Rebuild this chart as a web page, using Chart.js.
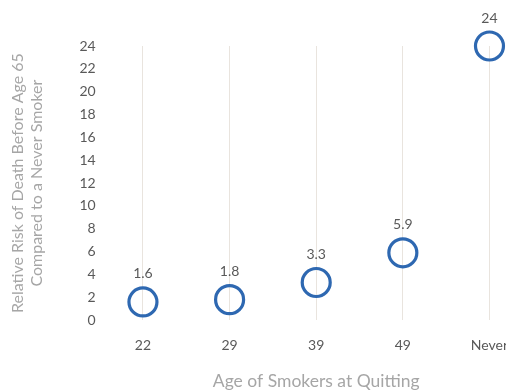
<!DOCTYPE html>
<html>
<head>
<meta charset="utf-8">
<script src="https://cdn.jsdelivr.net/npm/chart.js@4"></script>
<style>
    html, body {
        margin: 0;
        padding: 0;
        background: #ffffff;
        overflow: hidden;
    }
    /* o gráfico original está cortado à direita */
    .chart-box {
        position: relative;
        width: 550px;
        height: 392px;
    }
</style>
</head>
<body>
<div class="chart-box">
    <canvas id="riskChart"></canvas>
</div>
<script>
// =========================
// DADOS
// =========================
const quitAges = ['22', '29', '39', '49', 'Never'];
const relativeRisk = [1.6, 1.8, 3.3, 5.9, 24];

const yTitle = [
    'Relative Risk of Death Before Age 65',
    'Compared to a Never Smoker'
];
const xTitle = 'Age of Smokers at Quitting';

const FONT = 'Lato';

// ========================
// RÓTULOS DOS PONTOS
// ========================
const pointLabels = {
    id: 'pointLabels',
    afterDatasetsDraw(chart) {
        const ctx = chart.ctx;
        const meta = chart.getDatasetMeta(0);

        ctx.save();
        ctx.font = `14px ${FONT}`;
        ctx.fillStyle = '#595959';
        ctx.textAlign = 'center';
        ctx.textBaseline = 'middle';

        meta.data.forEach((pt, i) => {
            ctx.fillText(String(relativeRisk[i]), pt.x, pt.y - 28);
        });

        ctx.restore();
    }
};

// ========================
// GRÁFICO
// ========================
const ctx = document.getElementById('riskChart').getContext('2d');

new Chart(ctx, {
    type: 'line',
    data: {
        labels: quitAges,
        datasets: [{
            data: relativeRisk,
            showLine: false,
            pointRadius: 14,
            pointHoverRadius: 14,
            pointBorderWidth: 3.2,
            pointBorderColor: '#2e68b1',
            pointBackgroundColor: 'rgba(0,0,0,0)',
            clip: false
        }]
    },
    options: {
        responsive: true,
        maintainAspectRatio: false,
        animation: false,
        events: [],
        layout: {
            padding: { top: 46, right: 0, bottom: 0, left: 0 }
        },
        plugins: {
            legend: { display: false },
            tooltip: { enabled: false }
        },
        scales: {
            x: {
                type: 'category',
                offset: true,
                grid: {
                    display: true,
                    drawTicks: false,
                    color: '#e9e4de',
                    lineWidth: 1
                },
                border: { display: false },
                ticks: {
                    color: '#595959',
                    font: { family: FONT, size: 14 },
                    padding: 17,
                    maxRotation: 0
                },
                title: {
                    display: true,
                    text: xTitle,
                    color: '#a6a6a6',
                    font: { family: FONT, size: 17.5 },
                    padding: { top: 0, bottom: 0 }
                }
            },
            y: {
                min: 0,
                max: 24,
                grid: { display: false, drawTicks: false },
                border: { display: false },
                ticks: {
                    stepSize: 2,
                    color: '#595959',
                    font: { family: FONT, size: 14 },
                    padding: 4
                },
                title: {
                    display: true,
                    text: yTitle,
                    color: '#a6a6a6',
                    font: { family: FONT, size: 16 },
                    padding: { top: 8, bottom: 29 }
                }
            }
        }
    },
    plugins: [pointLabels]
});
</script>
</body>
</html>
